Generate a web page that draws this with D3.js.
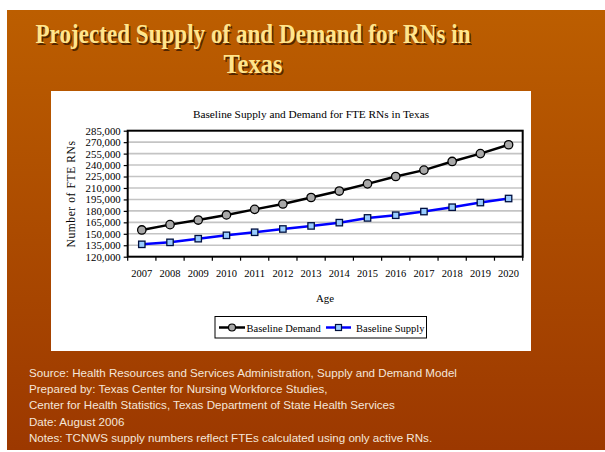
<!DOCTYPE html>
<html><head><meta charset="utf-8">
<script src="https://cdn.jsdelivr.net/npm/d3@7"></script>
<style>body{margin:0;background:#fff}svg{display:block}</style>
</head><body>
<script>
const years = ["2007","2008","2009","2010","2011","2012","2013","2014","2015","2016","2017","2018","2019","2020"];
const demand = [155000,162000,168000,174700,182000,189000,197500,206000,215400,225000,233400,244700,255000,266600];
const supply = [136200,138800,143600,148000,152000,156300,160300,164600,170800,174300,179100,184800,190900,196200];
const yTicks = [120000,135000,150000,165000,180000,195000,210000,225000,240000,255000,270000,285000];
const titleLines = ["Projected Supply of and Demand for RNs in","Texas"];
const footer = ["Source: Health Resources and Services Administration, Supply and Demand Model",
"Prepared by: Texas Center for Nursing Workforce Studies,",
"Center for Health Statistics, Texas Department of State Health Services",
"Date: August 2006",
"Notes: TCNWS supply numbers reflect FTEs calculated using only active RNs."];

const W=605,H=452;
const svg=d3.select("body").append("svg").attr("width",W).attr("height",H);
const defs=svg.append("defs");
const g=defs.append("linearGradient").attr("id","bg").attr("x1",0).attr("y1",0).attr("x2",0).attr("y2",1);
g.append("stop").attr("offset","0%").attr("stop-color","#BC5E00");
g.append("stop").attr("offset","100%").attr("stop-color","#9C3800");
svg.append("rect").attr("x",7).attr("y",10).attr("width",W-7).attr("height",440).attr("fill","url(#bg)");

// title
titleLines.forEach((t,i)=>{
  const y=[43,73][i];
  svg.append("text").attr("x",254.5).attr("y",y+1.5).attr("text-anchor","middle")
    .attr("font-family","Liberation Serif, Times New Roman, serif").attr("font-weight","bold").attr("font-size",27)
    .attr("fill","#3a1a00").attr("opacity",0.8).text(t)
    .attr("textLength", i===0?435:59).attr("lengthAdjust","spacingAndGlyphs");
  svg.append("text").attr("x",253).attr("y",y).attr("text-anchor","middle")
    .attr("font-family","Liberation Serif, Times New Roman, serif").attr("font-weight","bold").attr("font-size",27)
    .attr("fill","#FFE58C").text(t)
    .attr("textLength", i===0?435:59).attr("lengthAdjust","spacingAndGlyphs");
});

// white panel
svg.append("rect").attr("x",51).attr("y",91).attr("width",480).attr("height",260).attr("fill","#fff");

const L=127.7,R=522.7,T=130.7,B=256.7;
const x=d3.scaleBand().domain(years).range([L,R]);
const y=d3.scaleLinear().domain([120000,285000]).range([B,T]);
const serif="Liberation Serif, Times New Roman, serif";

svg.append("text").attr("x",311).attr("y",118).attr("text-anchor","middle").attr("font-family",serif)
  .attr("font-size",11.3).text("Baseline Supply and Demand for FTE RNs in Texas");

// grid
svg.append("g").selectAll("line").data(yTicks.slice(1,-1)).join("line")
  .attr("x1",L).attr("x2",R).attr("y1",d=>y(d)).attr("y2",d=>y(d))
  .attr("stroke","#C4C4C4").attr("stroke-width",1.6);

// y axis
const ya=svg.append("g").attr("transform",`translate(${L},0)`)
  .call(d3.axisLeft(y).tickValues(yTicks).tickSize(4).tickPadding(3).tickFormat(d3.format(",")));
ya.select(".domain").remove();
ya.selectAll("line").attr("stroke","#000").attr("stroke-width",1.2);
ya.selectAll("text").attr("font-family",serif).attr("font-size",10.8).attr("fill","#000");

// x axis
const xa=svg.append("g").attr("transform",`translate(0,${B})`)
  .call(d3.axisBottom(x).tickSize(0).tickPadding(13));
xa.select(".domain").remove();
xa.selectAll("text").attr("font-family",serif).attr("font-size",10.5).attr("fill","#000");
svg.append("g").selectAll("line").data(years.concat(["end"])).join("line")
  .attr("x1",(d,i)=>L+i*x.bandwidth()).attr("x2",(d,i)=>L+i*x.bandwidth())
  .attr("y1",B).attr("y2",B+4).attr("stroke","#000").attr("stroke-width",1.2);

// border
svg.append("rect").attr("x",L).attr("y",T).attr("width",R-L).attr("height",B-T)
  .attr("fill","none").attr("stroke","#000").attr("stroke-width",2);

svg.append("text").attr("x",325).attr("y",302).attr("text-anchor","middle").attr("font-family",serif).attr("font-size",10.8).text("Age");
svg.append("text").attr("transform","translate(75,194) rotate(-90)").attr("text-anchor","middle")
  .attr("font-family",serif).attr("font-size",11.5).attr("letter-spacing",0.6).text("Number of FTE RNs");

const cx=d=>x(d)+x.bandwidth()/2;
const line=d3.line().x(d=>cx(d[0])).y(d=>y(d[1]));
const sd=years.map((yr,i)=>[yr,supply[i]]), dd=years.map((yr,i)=>[yr,demand[i]]);
svg.append("path").datum(sd).attr("d",line).attr("fill","none").attr("stroke","#0000FF").attr("stroke-width",2.5);
svg.append("path").datum(dd).attr("d",line).attr("fill","none").attr("stroke","#000").attr("stroke-width",2.5);
svg.append("g").selectAll("rect").data(sd).join("rect")
  .attr("x",d=>cx(d[0])-3.2).attr("y",d=>y(d[1])-3.2).attr("width",6.4).attr("height",6.4)
  .attr("fill","#99CCFF").attr("stroke","#001040").attr("stroke-width",1.3);
svg.append("g").selectAll("circle").data(dd).join("circle")
  .attr("cx",d=>cx(d[0])).attr("cy",d=>y(d[1])).attr("r",4.2)
  .attr("fill","#A8A8A8").attr("stroke","#000").attr("stroke-width",1.3);

// legend
const lg=svg.append("g");
lg.append("rect").attr("x",215).attr("y",316.5).attr("width",211.5).attr("height",21.5).attr("fill","#fff").attr("stroke","#000").attr("stroke-width",1);
lg.append("line").attr("x1",219).attr("x2",245).attr("y1",327.5).attr("y2",327.5).attr("stroke","#000").attr("stroke-width",2.5);
lg.append("circle").attr("cx",232).attr("cy",327.5).attr("r",3.5).attr("fill","#A8A8A8").attr("stroke","#000").attr("stroke-width",1.2);
lg.append("text").attr("x",246.5).attr("y",331.5).attr("font-family",serif).attr("font-size",10.5).text("Baseline Demand");
lg.append("line").attr("x1",326).attr("x2",351).attr("y1",327.5).attr("y2",327.5).attr("stroke","#0000FF").attr("stroke-width",2.5);
lg.append("rect").attr("x",335.5).attr("y",324.5).attr("width",6).attr("height",6).attr("fill","#99CCFF").attr("stroke","#001040").attr("stroke-width",1.2);
lg.append("text").attr("x",356).attr("y",331.5).attr("font-family",serif).attr("font-size",10.5).text("Baseline Supply");

// footer
svg.append("g").selectAll("text").data(footer).join("text")
  .attr("x",29).attr("y",(d,i)=>377+i*16.2)
  .attr("font-family","Liberation Sans, Arial, sans-serif").attr("font-size",11.6)
  .attr("fill","#F4E6DA").text(d=>d);
</script>
</body></html>
